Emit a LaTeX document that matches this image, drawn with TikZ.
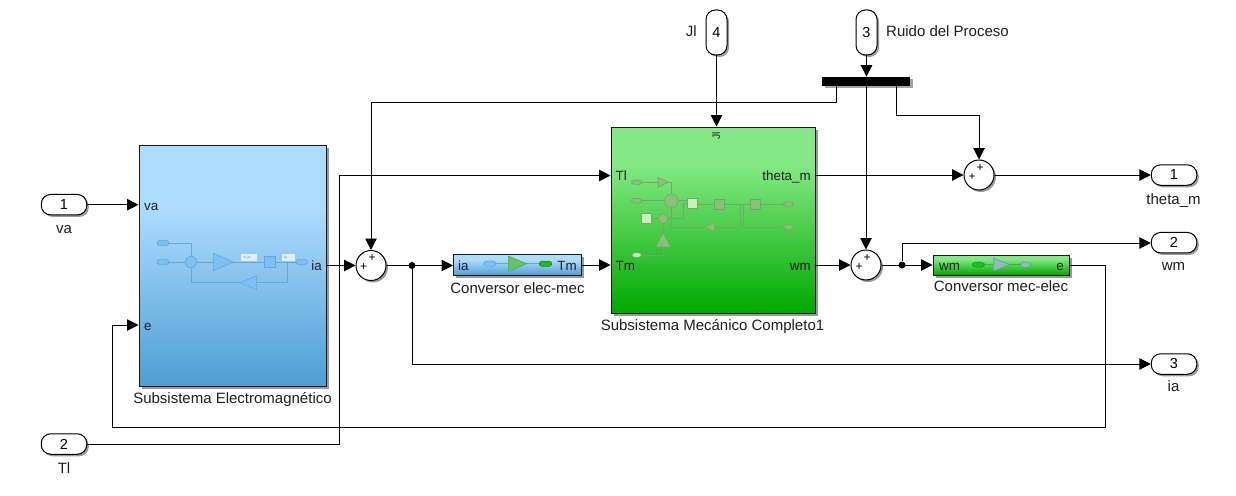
\documentclass[tikz,border=0pt]{standalone}
\usepackage{fontspec}
\setmainfont{Liberation Sans}
\usetikzlibrary{arrows.meta,shadows,calc}
\definecolor{bluetop}{HTML}{AEDCFF}
\definecolor{bluebot}{HTML}{4E9DD3}
\definecolor{greentop}{HTML}{84E984}
\definecolor{greenbot}{HTML}{00A800}
\pgfdeclareverticalshading{elecshade}{100bp}{color(0bp)=(bluebot);color(25bp)=(bluebot);color(62bp)=(bluetop);color(75bp)=(bluetop);color(100bp)=(bluetop)}
\pgfdeclareverticalshading{mechshade}{100bp}{color(0bp)=(greenbot);color(25bp)=(greenbot);color(65bp)=(greentop);color(75bp)=(greentop);color(100bp)=(greentop)}
\tikzset{
  wire/.style={draw=black,line width=1pt},
  arr/.style={wire,-{Triangle[length=11.5pt,width=11.5pt]}},
  txt/.style={font=\fontsize{15}{17}\selectfont,inner sep=0pt,text=black!88},
  intxt/.style={font=\fontsize{13.4}{16}\selectfont,inner sep=0pt,text=black!88},
  plus/.style={font=\fontsize{12}{12}\selectfont,inner sep=0pt},
  block/.style={draw=black!90,line width=1pt,inner sep=0pt,drop shadow={shadow xshift=2.5pt,shadow yshift=-2.5pt,fill=black,opacity=.4}},
  elecblk/.style={block,shading=elecshade,shading angle=0},
  mechblk/.style={block,shading=mechshade,shading angle=0},
  port/.style={draw=black,line width=1pt,fill=white,rounded corners=9.5pt,inner sep=0pt,font=\fontsize{14.5}{16}\selectfont,drop shadow={shadow xshift=2pt,shadow yshift=-2pt,fill=black,opacity=.4}},
  hport/.style={port,minimum width=45.5pt,minimum height=20.5pt},
  vport/.style={port,minimum width=21pt,minimum height=45pt},
  sumb/.style={circle,draw=black,line width=1pt,fill=white,minimum size=30pt,inner sep=0pt,drop shadow={shadow xshift=2pt,shadow yshift=-2pt,fill=black,opacity=.4}},
  busb/.style={fill=black,inner sep=0pt,minimum width=88pt,minimum height=9pt,drop shadow={shadow xshift=2.5pt,shadow yshift=-2.5pt,fill=black,opacity=.35}},
  dot/.style={circle,fill=black,inner sep=0pt,minimum size=7pt},
  bline/.style={draw=BlueL,line width=0.8pt},
  bfill/.style={draw=BlueL,fill=BlueF,line width=0.6pt},
  gline/.style={draw=GreenL,line width=0.7pt},
  gfill/.style={draw=GreenL,fill=GreenF,line width=0.6pt},
  gwhite/.style={draw=GreenL,fill=GreenW,line width=0.6pt},
  pillshape/.style={rounded corners=2.8pt},
}
\definecolor{BlueL}{HTML}{6AA6D2}
\definecolor{BlueF}{HTML}{7CC1F6}
\definecolor{GreenL}{HTML}{6FAA66}
\definecolor{GreenF}{HTML}{8CBF78}
\definecolor{GreenW}{HTML}{C8F0BE}
\begin{document}
\begin{tikzpicture}[x=1pt,y=-1pt]
\useasboundingbox (0,0) rectangle (1236,495);
% blocks
\node[elecblk,minimum width=187pt,minimum height=241pt] (elec) at (232.5,265.5) {};
\node[mechblk,minimum width=204pt,minimum height=186pt] (mech) at (713,220) {};
\node[elecblk,minimum width=128pt,minimum height=21pt] (cem) at (517.5,265) {};
\node[mechblk,minimum width=136pt,minimum height=20pt] (cme) at (1001,265) {};
% sums
\node[sumb] (s1) at (371,265.5) {};
\node[sumb] (s2) at (866,265) {};
\node[sumb] (s3) at (979,175) {};
\node[plus] (s1a) at (363.5,267.5) {+};
\node[plus] (s1b) at (372,258.5) {+};
\node[plus] (s2a) at (859,267) {+};
\node[plus] (s2b) at (867,258) {+};
\node[plus] (s3a) at (972,177) {+};
\node[plus] (s3b) at (980,168) {+};
% bus
\node[busb] (bus) at (866,81.3) {};
% ports
\node[hport] (pva) at (64,204.7) {1};
\node[hport] (ptl) at (64,444) {2};
\node[vport] (pjl) at (716.5,32.5) {4};
\node[vport] (pr) at (866.5,32.5) {3};
\node[hport] (o1) at (1174,175) {1};
\node[hport] (o2) at (1174,242.7) {2};
\node[hport] (o3) at (1174,364) {3};
% thumbnails: electromagnetic
\draw[bline] (168.7,243) -| (191,256);
\draw[bline] (168.7,262) -- (296,262);
\draw[bline] (287.3,262) |- (256.7,282.7);
\draw[bline] (240,282.7) -| (191,268);
\draw[bfill,pillshape] (157.3,240.3) rectangle (168.7,245.7);
\draw[bfill,pillshape] (157.3,259.3) rectangle (168.7,264.7);
\draw[bfill] (191,262) circle (5.7);
\draw[bfill] (213.3,253.3) -- (233.3,262) -- (213.3,270.7) -- cycle;
\fill[white,opacity=.7] (241,254) rectangle (257,260.7);
\fill[white,opacity=.7] (282.3,254) rectangle (295,260.7);
\node[font=\fontsize{3.5}{4}\selectfont,inner sep=0pt,text=black!50] (dia) at (247,257.4) {d\_ia};
\node[font=\fontsize{3.5}{4}\selectfont,inner sep=0pt,text=black!50] (iam) at (285.5,257.4) {ia};
\draw[bfill] (264.3,256.3) rectangle (275.7,267.7);
\draw[bfill,pillshape] (296,259.3) rectangle (307.3,264.7);
\draw[bfill] (256.7,275.7) -- (240,282.7) -- (256.7,289.7) -- cycle;
% thumbnails: mechanical
\draw[gline] (641.7,182.3) -- (658,182.3);
\draw[gline] (668,182.3) -| (671.3,194);
\draw[gline] (641.7,200.7) -- (687.7,200.7);
\draw[gline] (697.7,204) -- (783.7,204);
\draw[gline] (740.3,204) |- (714.7,227);
\draw[gline] (705,227) -| (671.3,207.4);
\draw[gline] (743.7,204) |- (783.7,227);
\draw[gline] (668,218.7) -| (683.3,203.3) -- (687.7,203.3);
\draw[gline] (651.7,218.7) -- (658,218.7);
\draw[gline] (663,223.7) -- (663,232.7);
\draw[gline] (641.3,255) -| (663,247);
\draw[gfill,pillshape] (631.7,180) rectangle (641.7,184.6);
\draw[gfill,pillshape] (631.7,198.4) rectangle (641.7,203);
\draw[gfill,pillshape] (783.7,201.7) rectangle (793.3,206.3);
\draw[gfill,pillshape] (783.7,224.7) rectangle (793.3,229.3);
\draw[gfill] (658,177.3) -- (668,182.3) -- (658,187.3) -- cycle;
\draw[gfill] (671.3,200.7) circle (6.7);
\draw[gwhite] (687.7,198.3) rectangle (697.7,208.3);
\draw[gfill] (714.3,199) rectangle (724.3,209);
\draw[gfill] (750.3,199) rectangle (760.3,209);
\draw[gfill] (714.7,222.3) -- (705,227) -- (714.7,231.7) -- cycle;
\draw[gwhite] (641.7,213.7) rectangle (651.7,223.7);
\draw[gfill] (663,218.7) circle (5);
\draw[gfill] (655.7,247) -- (663,232.7) -- (670.7,247) -- cycle;
\draw[GreenL,fill=GreenW,line width=0.4pt,pillshape] (632,252.8) rectangle (641.3,257.2);
% thumbnails: converters
\draw[bline] (495.7,263.7) -- (539.3,263.7);
\draw[bfill,pillshape] (483.7,261) rectangle (495.7,266.4);
\draw[draw=green!55!black!70,fill=green!60!black!60!white,line width=0.6pt] (508.3,256) -- (526.7,263.7) -- (508.3,271.7) -- cycle;
\draw[draw=green!60!black,fill=green!65!black!85!white,line width=0.5pt,pillshape] (539.3,261) rectangle (551.7,266.4);
\draw[draw=green!50!black!70,line width=0.8pt] (984,264.7) -- (1020.3,264.7);
\draw[draw=green!60!black,fill=green!70!black!85!white,line width=0.5pt,pillshape] (972.7,262.2) rectangle (984,267.2);
\draw[draw=teal!70,fill=cyan!60!green!55!black!50!white,line width=0.6pt] (993.7,258) -- (1010,264.7) -- (993.7,271) -- cycle;
\draw[draw=teal!70,fill=cyan!60!green!55!black!50!white,line width=0.5pt,pillshape] (1020.3,262.2) rectangle (1030.7,267.2);
% inner block labels
\node[intxt,anchor=base west] (lva) at (144,210) {va};
\node[intxt,anchor=base west] (le) at (144,330) {e};
\node[intxt,anchor=base east] (lia) at (322,270) {ia};
\node[intxt,anchor=base west] (ltl) at (615.5,180.3) {Tl};
\node[intxt,anchor=base west] (ltm) at (615.5,270) {Tm};
\node[intxt,anchor=base east] (ltheta) at (811,180.3) {theta\_m};
\node[intxt,anchor=base east] (lwm) at (811,270) {wm};
\node[inner sep=0pt,font=\fontsize{10.5}{12}\selectfont,text=black!88,rotate=90] (ljl) at (716,135.5) {Jl};
\node[intxt,anchor=base west] (lcia) at (458,270) {ia};
\node[intxt,anchor=base east] (lctm) at (577,270) {Tm};
\node[intxt,anchor=base west] (lcwm) at (939,270) {wm};
\node[intxt,anchor=base east] (lce) at (1064,270) {e};
% outer labels
\node[txt,anchor=base] (tva) at (64,233.7) {va};
\node[txt,anchor=base] (ttl) at (64,473) {Tl};
\node[txt,anchor=base] (ttheta) at (1173.5,204.7) {theta\_m};
\node[txt,anchor=base] (twm) at (1173.5,270.5) {wm};
\node[txt,anchor=base] (tia) at (1173.5,391) {ia};
\node[txt,anchor=base east] (tjl) at (697,36.7) {Jl};
\node[txt,anchor=base west] (truido) at (886,36.7) {Ruido del Proceso};
\node[txt,anchor=base] (telec) at (232.5,403) {Subsistema Electromagnético};
\node[txt,anchor=base] (tcem) at (517.5,293) {Conversor elec-mec};
\node[txt,anchor=base] (tmech) at (712.5,330.7) {Subsistema Mecánico Completo1};
\node[txt,anchor=base] (tcme) at (1001,291.7) {Conversor mec-elec};
% junctions
\node[dot] (j1) at (412,265.5) {};
\node[dot] (j2) at (902,265) {};
\coordinate (busl) at (836,85.7);
\coordinate (busr) at (896.7,85.7);
% wires
\draw[arr] (pva.east) -- (pva.east -| elec.west);
\draw[arr] (cme.east) -- (1105,265) -- (1105,427) -- (112,427) -- (112,325) -- (elec.west |- 0,325);
\draw[arr] (ptl.east) -- (339,444) -- (339,175.5) -- (mech.west |- 0,175.5);
\draw[arr] (elec.east |- s1) -- (s1.west);
\draw[arr] (s1.east) -- (cem.west |- s1);
\draw[arr] (j1) -- (412,364) -- (o3.west);
\draw[arr] (cem.east) -- (mech.west |- cem.east);
\draw[arr] (mech.east |- s2) -- (s2.west);
\draw[arr] (s2.east) -- (cme.west);
\draw[arr] (j2) -- (902,243) -- (o2.west |- 0,243);
\draw[arr] (mech.east |- s3) -- (s3.west);
\draw[arr] (s3.east) -- (o1.west);
\draw[arr] (pjl.south) -- (mech.north -| pjl.south);
\draw[arr] (pr.south) -- (bus.north -| pr.south);
\draw[arr] (busl) -- (836,102) -- (371,102) -- (s1.north);
\draw[arr] (bus.south -| s2) -- (s2.north);
\draw[arr] (busr) -- (896.7,115) -- (979,115) -- (s3.north);
\end{tikzpicture}
\end{document}
